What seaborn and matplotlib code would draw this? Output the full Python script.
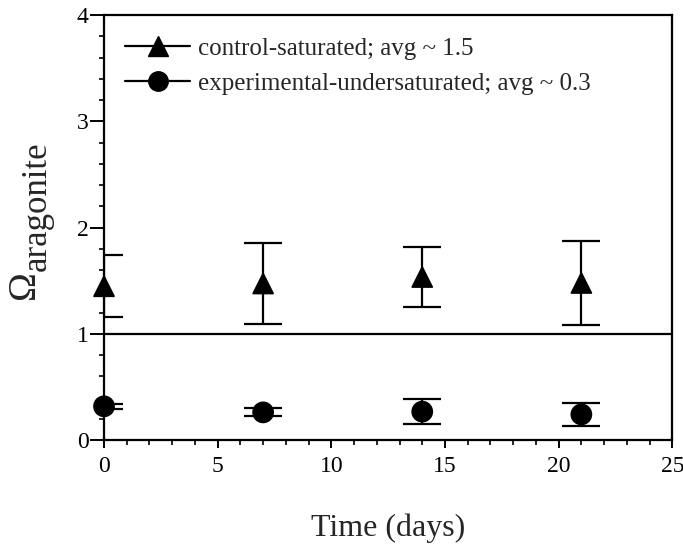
import numpy as np
import pandas as pd
import seaborn as sns
import matplotlib.pyplot as plt
from matplotlib.lines import Line2D
from matplotlib.ticker import MultipleLocator

# values
days = [0, 7, 14, 21]
control_mean = [1.447, 1.473, 1.534, 1.478]
control_err = [0.292, 0.378, 0.279, 0.398]
exp_mean = [0.317, 0.260, 0.267, 0.241]
exp_err = [0.022, 0.038, 0.116, 0.110]
labels = ["control-saturated; avg ~ 1.5", "experimental-undersaturated; avg ~ 0.3"]

df = pd.DataFrame({
    "day": days * 2,
    "omega": control_mean + exp_mean,
    "err": control_err + exp_err,
    "group": [labels[0]] * 4 + [labels[1]] * 4,
})

sns.set_style("ticks")
plt.rcParams["font.family"] = ["Liberation Serif", "DejaVu Serif"]

fig = plt.figure(figsize=(6.83, 5.52), dpi=100)
ax = fig.add_axes([0.1523, 0.2029, 0.832, 0.7699])

markers = {labels[0]: "^", labels[1]: "o"}
sizes = {labels[0]: 15, labels[1]: 14}

# error bars (clipped at the axes edge like the original)
for g, sub in df.groupby("group"):
    ax.errorbar(sub["day"], sub["omega"], yerr=sub["err"], fmt="none",
                ecolor="black", elinewidth=1.6, capsize=13.5, capthick=1.6,
                clip_on=True, zorder=2)

sns.scatterplot(data=df, x="day", y="omega", style="group", markers=markers,
                color="black", s=210, edgecolor="black", legend=False,
                ax=ax, zorder=3, clip_on=False)

ax.axhline(1, color="black", lw=1.6, zorder=1)

ax.set_xlim(0, 25)
ax.set_ylim(0, 4)
ax.xaxis.set_major_locator(MultipleLocator(5))
ax.xaxis.set_minor_locator(MultipleLocator(1))
ax.yaxis.set_major_locator(MultipleLocator(1))
ax.yaxis.set_minor_locator(MultipleLocator(0.2))
ax.tick_params(which="both", colors="black", labelsize=17)
ax.tick_params(axis="x", which="major", length=5.5, width=1.4, pad=6)
ax.tick_params(axis="y", which="major", length=10, width=1.4, pad=1)
ax.tick_params(which="minor", length=3.5, width=1.2)
for s in ax.spines.values():
    s.set_linewidth(1.6)
    s.set_color("black")

ax.set_xlabel("Time (days)", fontsize=23)
ax.xaxis.set_label_coords(0.5, -0.172)
ax.set_ylabel("")

# y label: large Omega with "aragonite" subscript
fig.text(25 / 683, 1 - 285 / 552, "\u03a9", fontsize=28, rotation=90,
         ha="center", va="center")
fig.text(37 / 683, 1 - 271 / 552, "aragonite", fontsize=25, rotation=90,
         ha="center", va="bottom")

handles = [Line2D([], [], color="black", lw=1.6, marker=markers[l],
                  markersize=sizes[l]) for l in labels]
ax.legend(handles, labels, loc="upper left", frameon=False, fontsize=18,
          handlelength=2.6, handletextpad=0.3, labelspacing=0.5,
          borderpad=0.0, borderaxespad=0.0, bbox_to_anchor=(0.037, 0.948))

fig.savefig("out.png", dpi=100, facecolor="white")
